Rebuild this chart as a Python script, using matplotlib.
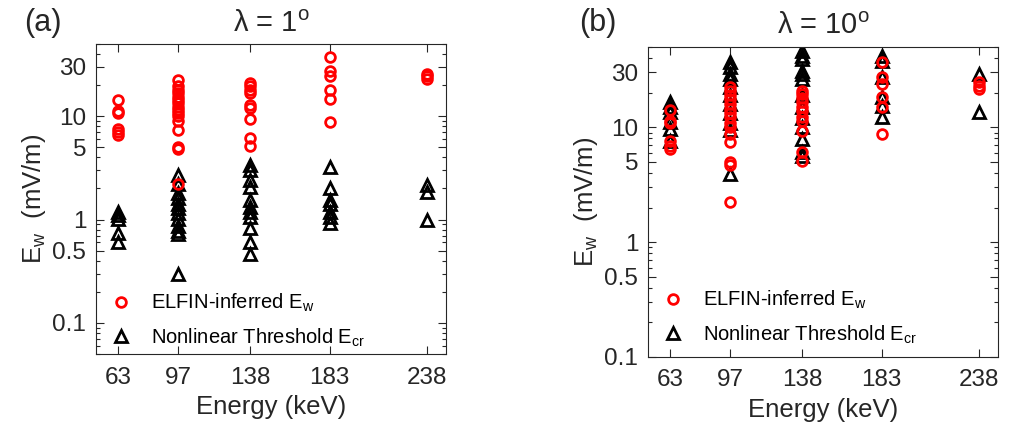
"""ELFIN-inferred wave amplitude vs nonlinear threshold, two latitudes."""

import matplotlib.pyplot as plt
from matplotlib.ticker import FixedLocator, LogLocator, NullFormatter

plt.rcParams["font.family"] = ["Liberation Sans", "DejaVu Sans"]
plt.rcParams["mathtext.default"] = "regular"

ENERGIES = [63, 97, 138, 183, 238]
YTICKS = [0.1, 0.5, 1, 5, 10, 30]

# lambda = 1 deg: ELFIN-inferred E_w (circles) per energy channel
ew_1 = {
    63: [14.2, 11.3, 10.7, 7.6, 7.1, 6.6],
    97: [22.2, 19.4, 18.0, 16.7, 15.5, 14.4, 13.4, 12.4, 11.5, 10.7, 10.0,
         8.9, 7.4, 5.0, 4.8, 2.2],
    138: [21.2, 19.7, 18.0, 16.7, 12.9, 12.0, 9.35, 6.2, 5.1],
    183: [37.4, 27.2, 24.3, 18.0, 14.7, 8.7],
    238: [25.6, 24.3, 22.9],
}
# lambda = 1 deg: nonlinear threshold E_cr (triangles)
ecr_1 = {
    63: [1.19, 1.1, 1.02, 0.74, 0.61],
    97: [2.7, 2.2, 1.79, 1.6, 1.43, 1.28, 1.15, 1.02, 0.86, 0.77, 0.72, 0.30],
    138: [3.4, 3.0, 2.4, 2.07, 1.55, 1.33, 1.19, 1.07, 0.82, 0.61, 0.46],
    183: [3.2, 2.0, 1.55, 1.43, 1.19, 1.07, 0.92],
    238: [2.15, 1.86, 1.0],
}

# lambda = 10 deg
ew_10 = {
    63: [14.2, 11.4, 10.8, 7.65, 6.9, 6.5],
    97: [22.3, 20.8, 19.0, 17.5, 16.0, 14.5, 13.3, 12.2, 11.0, 10.0, 8.75,
         7.4, 4.96, 4.7, 2.23],
    138: [20.8, 19.5, 18.0, 16.5, 15.0, 13.8, 12.2, 11.4, 9.35, 6.06, 5.1],
    183: [36.7, 27.2, 23.8, 18.2, 14.9, 8.75],
    238: [24.6, 23.0, 21.5],
}
ecr_10 = {
    63: [16.5, 14.9, 13.5, 11.1, 9.67, 7.65],
    97: [36.7, 33.2, 29.0, 26.3, 22.3, 19.0, 16.0, 13.3, 11.0, 9.5, 3.9],
    138: [46.4, 42.0, 39.3, 31.1, 29.0, 26.3, 19.0, 15.0, 12.0, 10.0, 7.9,
          6.06, 5.67],
    183: [42.0, 38.0, 27.2, 18.2, 15.4, 12.2],
    238: [29.0, 13.5],
}

INK = "#262626"


def flatten(d):
    xs, ys = [], []
    for e, vals in d.items():
        xs += [e] * len(vals)
        ys += vals
    return xs, ys


def draw_panel(ax, ew, ecr, ylim, title, tag, tag_x, leg_dy):
    xe, ye = flatten(ew)
    xc, yc = flatten(ecr)
    ax.plot(xe, ye, "o", ms=7, mfc="none", mec="red", mew=2,
            linestyle="none", zorder=3, label="ELFIN-inferred E$_w$")
    ax.plot(xc, yc, "^", ms=9, mfc="none", mec="black", mew=2,
            linestyle="none", zorder=2, label="Nonlinear Threshold E$_{cr}$")

    ax.set_yscale("log")
    ax.set_ylim(*ylim)
    ax.set_xlim(50.5, 249)
    ax.set_xticks(ENERGIES)
    ax.set_xticklabels([str(e) for e in ENERGIES])
    ax.yaxis.set_major_locator(FixedLocator(YTICKS))
    ax.set_yticklabels([f"{t:g}" for t in YTICKS])
    ax.yaxis.set_minor_locator(LogLocator(subs=range(2, 10)))
    ax.yaxis.set_minor_formatter(NullFormatter())
    ax.tick_params(which="both", direction="in", top=True, right=True,
                   labelsize=17.5, colors=INK, width=0.8)
    ax.tick_params(which="major", length=6, pad=7)
    ax.tick_params(axis="x", which="major", pad=9)
    ax.tick_params(which="minor", length=3)
    for s in ax.spines.values():
        s.set_color(INK)
        s.set_linewidth(0.8)

    ax.set_xlabel("Energy (keV)", fontsize=18.5, color=INK, labelpad=5)
    ax.set_ylabel("E$_w$  (mV/m)", fontsize=18.5, color=INK, labelpad=3)
    ax.set_title(title, fontsize=21, color=INK, pad=9)

    handles, labels = ax.get_legend_handles_labels()
    ax.legend(handles, labels, loc="lower left", frameon=False, fontsize=14.5,
              handlelength=1.3, handletextpad=0.85, borderaxespad=0.3,
              borderpad=0.3, labelspacing=0.6,
              bbox_to_anchor=(0.0, leg_dy))
    fig.text(tag_x, 0.945, tag, fontsize=22, color=INK, va="center")


fig = plt.figure(figsize=(10.09, 4.26), dpi=100)
ax1 = fig.add_axes([0.0951, 0.169, 0.3469, 0.7277])
ax2 = fig.add_axes([0.6422, 0.162, 0.3469, 0.7277])

draw_panel(ax1, ew_1, ecr_1, (0.05, 50), r"λ = 1$^{o}$", "(a)", 0.024, -0.022)
draw_panel(ax2, ew_10, ecr_10, (0.1, 50), r"λ = 10$^{o}$", "(b)", 0.574, -0.003)

fig.savefig("out.png", dpi=100)
